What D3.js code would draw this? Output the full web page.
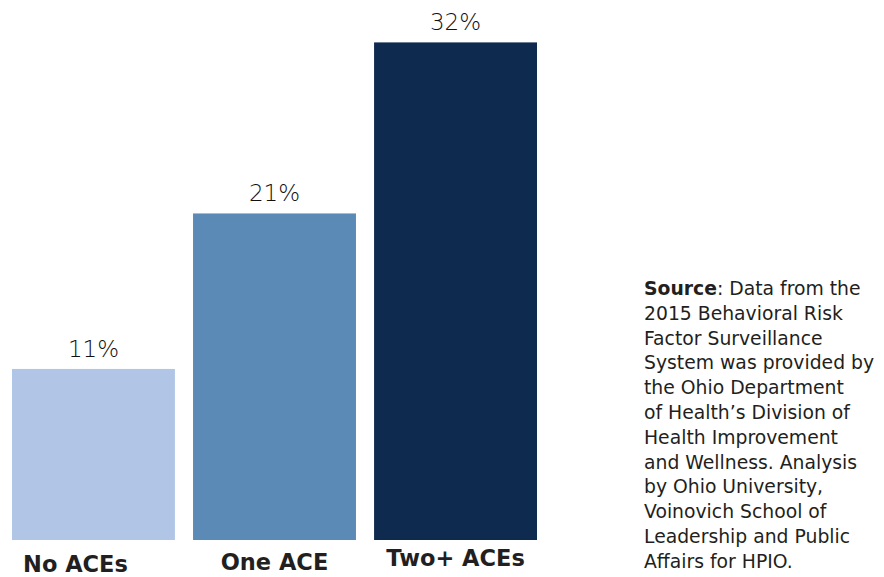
<!DOCTYPE html>
<html>
<head>
<meta charset="utf-8">
<script src="https://cdn.jsdelivr.net/npm/d3@7"></script>
<style>
  body { margin: 0; background: #fff; }
  svg { display: block; }
</style>
</head>
<body>
<svg id="chart"></svg>
<script>
// categories and values
const categories = ["No ACEs", "One ACE", "Two+ ACEs"];
const values = [11, 21, 32];
const barColors = ["#b1c6e6", "#5b8ab7", "#0f2a4f"];
const sourceLines = [
  ["Source", ": Data from the"],
  ["", "2015 Behavioral Risk"],
  ["", "Factor Surveillance"],
  ["", "System was provided by"],
  ["", "the Ohio Department"],
  ["", "of Health\u2019s Division of"],
  ["", "Health Improvement"],
  ["", "and Wellness. Analysis"],
  ["", "by Ohio University,"],
  ["", "Voinovich School of"],
  ["", "Leadership and Public"],
  ["", "Affairs for HPIO."]
];

const W = 884, H = 577;
const font = "'DejaVu Sans', sans-serif";

const svg = d3.select("#chart")
  .attr("width", W)
  .attr("height", H);

const x = d3.scaleBand()
  .domain(categories)
  .range([12, 537])
  .paddingInner(0.1)
  .paddingOuter(0);

// 15.55 px per percentage point, baseline at 540
const y = d3.scaleLinear()
  .domain([0, 32])
  .range([540, 540 - 32 * 15.55]);

svg.append("g")
  .selectAll("rect")
  .data(categories)
  .join("rect")
  .attr("x", d => x(d))
  .attr("y", (d, i) => y(values[i]))
  .attr("width", x.bandwidth())
  .attr("height", (d, i) => y(0) - y(values[i]))
  .attr("fill", (d, i) => barColors[i]);

svg.append("g")
  .selectAll("text")
  .data(categories)
  .join("text")
  .attr("x", d => x(d) + x.bandwidth() / 2)
  .attr("y", (d, i) => y(values[i]) - 12)
  .attr("text-anchor", "middle")
  .attr("font-family", font)
  .attr("font-weight", 200)
  .attr("font-size", "23px")
  .attr("fill", "#111")
  .text((d, i) => values[i] + "%");

// category labels sit slightly unevenly under the bars
const labelDx = [-18, 0, 0];
const labelY = [572, 570, 566];

svg.append("g")
  .selectAll("text")
  .data(categories)
  .join("text")
  .attr("x", (d, i) => x(d) + x.bandwidth() / 2 + labelDx[i])
  .attr("y", (d, i) => labelY[i])
  .attr("text-anchor", "middle")
  .attr("font-family", font)
  .attr("font-weight", 700)
  .attr("font-size", "22.5px")
  .attr("fill", "#231f20")
  .text(d => d);

const note = svg.append("text")
  .attr("font-family", font)
  .attr("font-size", "18.8px")
  .attr("fill", "#231f20");

sourceLines.forEach((ln, i) => {
  const t = note.append("tspan")
    .attr("x", 644)
    .attr("y", 295 + i * 24.8);
  if (ln[0]) t.append("tspan").attr("font-weight", 700).text(ln[0]);
  t.append("tspan").attr("font-weight", 400).text(ln[1]);
});
</script>
</body>
</html>
